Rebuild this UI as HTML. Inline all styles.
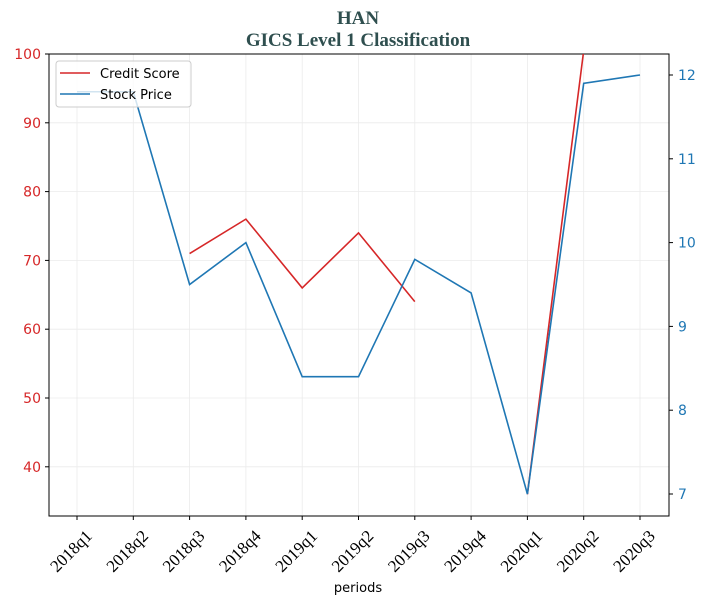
<!DOCTYPE html>
<html><head><meta charset="utf-8"><style>
body{margin:0;background:#fff;}
svg text{font-family:"DejaVu Sans","Liberation Sans",sans-serif;}
</style></head><body>
<svg id="c" width="707" height="605" xmlns="http://www.w3.org/2000/svg">
<text x="358" y="24" text-anchor="middle" font-weight="bold" font-size="19" fill="#2f4f4f" style="font-family:'Liberation Serif',serif">HAN</text>
<text x="358" y="46" text-anchor="middle" font-weight="bold" font-size="19" fill="#2f4f4f" style="font-family:'Liberation Serif',serif">GICS Level 1 Classification</text>
<g id="grid"></g><g id="axes"></g><g id="series"></g>
<text x="358" y="592" text-anchor="middle" font-size="13" fill="#000">periods</text>
<g>
<rect x="56" y="61" width="135" height="46" rx="3" fill="#fff" fill-opacity="0.8" stroke="#ccc"/>
<line x1="60" y1="73" x2="90" y2="73" stroke="#d62728" stroke-width="1.6"/>
<text x="100" y="78" font-size="13">Credit Score</text>
<line x1="60" y1="94" x2="90" y2="94" stroke="#1f77b4" stroke-width="1.6"/>
<text x="100" y="99" font-size="13">Stock Price</text>
</g>
</svg>
<script>
const categories=["2018q1","2018q2","2018q3","2018q4","2019q1","2019q2","2019q3","2019q4","2020q1","2020q2","2020q3"];
const creditScore=[null,null,71,76,66,74,64,null,36,100.5,null];
const stockPrice=[11.8,11.8,9.5,10.0,8.4,8.4,9.8,9.4,7.0,11.9,12.0];
const leftTicks=[40,50,60,70,80,90,100];
const rightTicks=[7,8,9,10,11,12];
const L=49,R=669,T=54,B=516;
const x=i=>77+i*(640-77)/10;
const yl=v=>54+(100-v)*6.88;
const yr=v=>75+(12-v)*83.8;
const NS="http://www.w3.org/2000/svg";
function mk(p,t,a){const e=document.createElementNS(NS,t);for(const k in a)e.setAttribute(k,a[k]);document.getElementById(p).appendChild(e);return e;}
categories.forEach((c,i)=>{
 const g=mk("grid","line",{x1:x(i),x2:x(i),y1:T,y2:B,stroke:"#ebebeb","stroke-width":0.8});
 
 
 mk("axes","line",{x1:x(i),x2:x(i),y1:B,y2:B+4,stroke:"#000"});
 const t=mk("axes","text",{x:0,y:0,"font-size":17,"text-anchor":"end",transform:`translate(${x(i)+16},${B+21}) rotate(-45)`,style:"font-family:'Liberation Serif',serif"});
 t.textContent=c;
 
 
});
leftTicks.forEach(v=>{
 const g=mk("grid","line",{x1:L,x2:R,y1:yl(v),y2:yl(v),stroke:"#ebebeb","stroke-width":0.8});
 
 
 mk("axes","line",{x1:L-4,x2:L,y1:yl(v),y2:yl(v),stroke:"#000"});
 const t=mk("axes","text",{x:L-8,y:yl(v)+5,"font-size":14,"text-anchor":"end",fill:"#d62728"});
 t.textContent=v;
 
 
});
rightTicks.forEach(v=>{
 mk("axes","line",{x1:R,x2:R+4,y1:yr(v),y2:yr(v),stroke:"#000"});
 const t=mk("axes","text",{x:R+9,y:yr(v)+5,"font-size":14,fill:"#1f77b4"});
 t.textContent=v;
 
 
});
const fr=mk("axes","rect",{x:L,y:T,width:R-L,height:B-T,fill:"none",stroke:"#000","stroke-width":1});


mk("series","clipPath",{id:"cp"}).appendChild((()=>{const r=document.createElementNS(NS,"rect");r.setAttribute("x",L);r.setAttribute("y",T);r.setAttribute("width",R-L);r.setAttribute("height",B-T);return r;})());
function path(vals,yf){let d="",pen=false;vals.forEach((v,i)=>{if(v==null){pen=false;return;}d+=(pen?"L":"M")+x(i)+","+yf(v);pen=true;});return d;}
const p1=mk("series","path",{d:path(creditScore,yl),fill:"none",stroke:"#d62728","stroke-width":1.6,"clip-path":"url(#cp)"});


const p2=mk("series","path",{d:path(stockPrice,yr),fill:"none",stroke:"#1f77b4","stroke-width":1.6,"clip-path":"url(#cp)"});


</script>
</body></html>
